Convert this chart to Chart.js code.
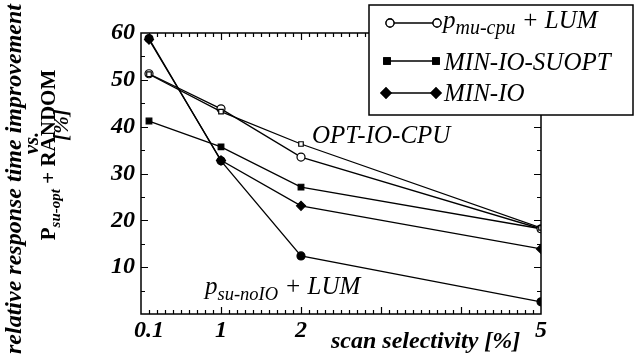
<!DOCTYPE html>
<html>
<head>
<meta charset="utf-8">
<script src="https://cdn.jsdelivr.net/npm/chart.js@4.4.1/dist/chart.umd.min.js"></script>
<style>
  html, body { margin: 0; padding: 0; background: #fff; }
  #wrap { width: 644px; height: 359px; position: relative; }
</style>
</head>
<body>
<div id="wrap"><canvas id="chart"></canvas></div>
<script>
// scan selectivity [%]
const xValues = [0.1, 1, 2, 5];
const xTickLabels = [0.1, 1, 2, 5];
const yTickValues = [10, 20, 30, 40, 50, 60];

// relative response time improvement [%]
const muCpuLum = [51.3, 43.8, 33.5, 18.2];
const optIoCpu = [51.2, 43.2, 36.3, 18.4];
const minIoSuopt = [41.2, 35.7, 27.1, 18.2];
const minIo = [58.6, 32.8, 23.1, 13.9];
const suNoIoLum = [58.8, 32.7, 12.4, 2.6];

const SERIF = "'Liberation Serif', 'Times New Roman', serif";

function points(values) {
  return values.map((v, i) => ({ x: xValues[i], y: v }));
}

function series(label, values, style, radius, filled) {
  return {
    label: label,
    data: points(values),
    showLine: true,
    borderColor: "#000",
    borderWidth: 1.3,
    pointStyle: style,
    pointRadius: radius,
    pointBackgroundColor: filled ? "#000" : "#fff",
    pointBorderColor: "#000",
    pointBorderWidth: 1.2,
  };
}

// frame with inward ticks on all four sides
const framePlugin = {
  id: "frame",
  afterDatasetsDraw(chart) {
    const { ctx, chartArea: a, scales } = chart;
    const xs = scales.x, ys = scales.y;
    ctx.save();
    ctx.strokeStyle = "#000";
    ctx.lineWidth = 1.5;
    ctx.strokeRect(a.left, a.top, a.right - a.left, a.bottom - a.top);
    ctx.lineWidth = 1.2;
    ctx.beginPath();
    for (let i = 1; i < 50; i++) {
      const px = Math.round(xs.getPixelForValue(i / 10)) + 0.5;
      const len = i % 10 === 0 ? 7 : 4;
      ctx.moveTo(px, a.bottom); ctx.lineTo(px, a.bottom - len);
      ctx.moveTo(px, a.top); ctx.lineTo(px, a.top + len);
    }
    for (let v = 5; v < 60; v += 5) {
      const py = Math.round(ys.getPixelForValue(v)) + 0.5;
      const len = v % 10 === 0 ? 7 : 4;
      ctx.moveTo(a.left, py); ctx.lineTo(a.left + len, py);
      ctx.moveTo(a.right, py); ctx.lineTo(a.right - len, py);
    }
    ctx.stroke();
    ctx.restore();
  },
};

// text with a subscript part: parts = [[text, isSub], ...]
function drawRich(ctx, parts, x, y, size, style, subScale) {
  let cx = x;
  parts.forEach(([t, sub]) => {
    const s = sub ? size * (subScale || 0.74) : size;
    ctx.font = `${style} ${s}px ${SERIF}`;
    ctx.fillText(t, cx, sub ? y + size * 0.22 : y);
    cx += ctx.measureText(t).width;
  });
  return cx;
}

const labelsPlugin = {
  id: "labels",
  afterDraw(chart) {
    const ctx = chart.ctx;
    ctx.save();
    ctx.fillStyle = "#000";
    ctx.textBaseline = "alphabetic";
    ctx.textAlign = "left";

    // annotations inside the plot
    drawRich(ctx, [["OPT-IO-CPU", false]], 312, 143, 25, "italic");
    drawRich(ctx, [["p", false], ["su-noIO", true], [" + LUM", false]], 205, 294, 25, "italic");

    // y axis title, rotated
    ctx.save();
    ctx.rotate(-Math.PI / 2);
    ctx.font = `bold italic 24px ${SERIF}`;
    ctx.textAlign = "center";
    ctx.fillText("relative response time improvement", -179, 21);
    ctx.font = `bold italic 21px ${SERIF}`;
    ctx.fillText("vs.", -143, 38);
    ctx.textAlign = "left";
    ctx.font = `bold 21px ${SERIF}`;
    const p1 = ctx.measureText("P").width;
    ctx.font = `bold italic 15px ${SERIF}`;
    const p2 = ctx.measureText("su-opt").width;
    ctx.font = `bold 21px ${SERIF}`;
    const p3 = ctx.measureText(" + RANDOM").width;
    const start = -155 - (p1 + p2 + p3) / 2;
    ctx.fillText("P", start, 55);
    ctx.font = `bold italic 15px ${SERIF}`;
    ctx.fillText("su-opt", start + p1, 60);
    ctx.font = `bold 21px ${SERIF}`;
    ctx.fillText(" + RANDOM", start + p1 + p2, 55);
    ctx.font = `bold italic 21px ${SERIF}`;
    ctx.textAlign = "center";
    ctx.fillText("[%]", -125, 68);
    ctx.restore();

    // x axis title
    ctx.font = `bold italic 24px ${SERIF}`;
    ctx.textAlign = "left";
    ctx.fillText("scan selectivity [%]", 331, 348);

    // legend box
    ctx.fillStyle = "#fff";
    ctx.fillRect(369, 5, 264, 110);
    ctx.strokeStyle = "#000";
    ctx.lineWidth = 1.5;
    ctx.strokeRect(369, 5, 264, 110);
    const rows = [
      { y: 23, style: "circle", fill: false, r: 4, x0: 390, x1: 437 },
      { y: 61, style: "rect", fill: true, r: 4.5, x0: 387, x1: 436 },
      { y: 93, style: "rectRot", fill: true, r: 5, x0: 386, x1: 436 },
    ];
    rows.forEach((row) => {
      ctx.lineWidth = 1.3;
      ctx.beginPath();
      ctx.moveTo(row.x0, row.y); ctx.lineTo(row.x1, row.y);
      ctx.stroke();
      [row.x0, row.x1].forEach((px) => {
        ctx.fillStyle = row.fill ? "#000" : "#fff";
        Chart.helpers.drawPoint(ctx, { pointStyle: row.style, radius: row.r, borderWidth: 1.2 }, px, row.y);
        ctx.fill();
        ctx.stroke();
      });
    });
    ctx.fillStyle = "#000";
    ctx.textAlign = "left";
    drawRich(ctx, [["p", false], ["mu-cpu", true], [" + LUM", false]], 443, 28, 25, "italic", 0.8);
    drawRich(ctx, [["MIN-IO-SUOPT", false]], 444, 70, 25, "italic");
    drawRich(ctx, [["MIN-IO", false]], 444, 101, 25, "italic");
    ctx.restore();
  },
};

const ctx = document.getElementById("chart").getContext("2d");
new Chart(ctx, {
  type: "scatter",
  data: {
    datasets: [
      series("OPT-IO-CPU", optIoCpu, "rect", 3.2, false),
      series("p mu-cpu + LUM", muCpuLum, "circle", 4, false),
      series("MIN-IO-SUOPT", minIoSuopt, "rect", 4, true),
      series("MIN-IO", minIo, "rectRot", 4.5, true),
      series("p su-noIO + LUM", suNoIoLum, "circle", 4, true),
    ],
  },
  options: {
    responsive: true,
    maintainAspectRatio: false,
    animation: false,
    layout: { padding: { left: 0, top: 33, right: 103, bottom: 0 } },
    plugins: {
      legend: { display: false },
      tooltip: { enabled: false },
    },
    scales: {
      x: {
        type: "linear",
        min: 0,
        max: 5,
        afterBuildTicks: (scale) => {
          scale.ticks = xTickLabels.map((v) => ({ value: v }));
        },
        afterFit: (scale) => { scale.height = 45; },
        grid: { display: false, drawTicks: false },
        border: { display: false },
        ticks: {
          autoSkip: false,
          maxRotation: 0,
          padding: 2,
          color: "#000",
          font: { family: SERIF, size: 24, weight: "bold", style: "italic" },
          callback: (v) => String(v),
        },
      },
      y: {
        min: 0,
        max: 60,
        afterBuildTicks: (scale) => {
          scale.ticks = yTickValues.map((v) => ({ value: v }));
        },
        afterFit: (scale) => { scale.width = 141; },
        grid: { display: false, drawTicks: false },
        border: { display: false },
        ticks: {
          padding: 6,
          color: "#000",
          font: { family: SERIF, size: 24, weight: "bold", style: "italic" },
        },
      },
    },
  },
  plugins: [framePlugin, labelsPlugin],
});
</script>
</body>
</html>
